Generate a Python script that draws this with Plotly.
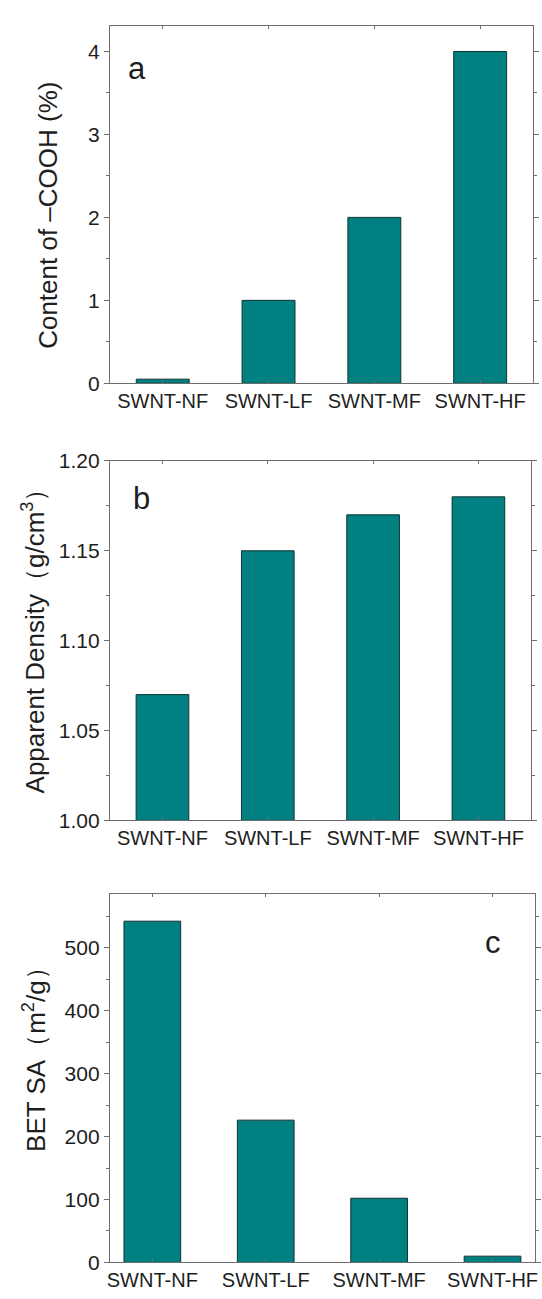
import plotly.graph_objects as go

# Sample names shared by the three panels
samples = ["SWNT-NF", "SWNT-LF", "SWNT-MF", "SWNT-HF"]

# Panel a: carboxyl content (%)
cooh_content = [0.05, 1.0, 2.0, 4.0]
# Panel b: apparent density (g/cm3)
apparent_density = [1.07, 1.15, 1.17, 1.18]
# Panel c: BET surface area (m2/g)
bet_sa = [542, 226, 102, 10]

W, H = 542, 1299
FONT = "Liberation Sans, Arial, Helvetica, sans-serif"
BAR_FILL = "#008080"
BAR_EDGE = "#123232"
AXIS_COLOR = "#6e6e6e"
TEXT_COLOR = "#1e1e1e"


def px_x(x):
    return x / W


def px_y(y):
    return 1 - y / H


fig = go.Figure()

panels = [
    dict(vals=cooh_content, xs=(108, 536), ys=(14, 378), yr=[0, 4.31],
         dt=1, mdt=0.5, xr=[-0.5, 3.5], fmt=None),
    dict(vals=apparent_density, xs=(108, 534), ys=(457, 823), yr=[1.0, 1.2],
         dt=0.05, mdt=0.025, xr=[-0.5, 3.5], fmt=".2f"),
    dict(vals=bet_sa, xs=(108, 538), ys=(898, 1273), yr=[0, 585],
         dt=100, mdt=50, xr=[-0.375, 3.375], fmt=None),
]

for i, p in enumerate(panels, start=1):
    xa = "x" if i == 1 else f"x{i}"
    ya = "y" if i == 1 else f"y{i}"
    base = p["yr"][0]
    fig.add_trace(go.Bar(
        x=samples,
        y=[v - base for v in p["vals"]],
        base=base,
        width=0.5,
        marker=dict(color=BAR_FILL, line=dict(color=BAR_EDGE, width=1)),
        xaxis=xa, yaxis=ya, showlegend=False,
    ))
    xkey = "xaxis" if i == 1 else f"xaxis{i}"
    ykey = "yaxis" if i == 1 else f"yaxis{i}"
    fig.layout[xkey] = dict(
        domain=[px_x(p["xs"][0]), px_x(p["xs"][1])],
        anchor=ya, range=p["xr"], type="category",
        showline=True, linecolor=AXIS_COLOR, linewidth=1, mirror="ticks",
        ticks="inside", ticklen=3, tickcolor=AXIS_COLOR,
        tickfont=dict(family=FONT, size=20, color=TEXT_COLOR),
        showgrid=False, zeroline=False, fixedrange=True,
    )
    ya_cfg = dict(
        domain=[px_y(p["ys"][1]), px_y(p["ys"][0])],
        anchor=xa, range=p["yr"],
        showline=True, linecolor=AXIS_COLOR, linewidth=1, mirror="ticks",
        ticks="outside", ticklen=5, tickcolor=AXIS_COLOR,
        dtick=p["dt"], tick0=base,
        minor=dict(dtick=p["mdt"], ticks="outside", ticklen=3,
                   tickcolor=AXIS_COLOR, showgrid=False),
        tickfont=dict(family=FONT, size=21, color=TEXT_COLOR),
        showgrid=False, zeroline=False, fixedrange=True,
    )
    if p["fmt"]:
        ya_cfg["tickformat"] = p["fmt"]
    fig.layout[ykey] = ya_cfg

# Axis titles, drawn as rotated annotations
titles = [
    ("Content of –COOH (%)", 46, 207),
    ("Apparent Density（g/cm<sup>3</sup>）", 31, 634),
    ("BET SA（m<sup>2</sup>/g）", 32, 1060),
]
for text, cx, cy in titles:
    fig.add_annotation(
        text=text, xref="paper", yref="paper", x=px_x(cx), y=px_y(cy),
        xanchor="center", yanchor="middle", textangle=-90, showarrow=False,
        font=dict(family=FONT, size=26, color=TEXT_COLOR),
    )

# Panel letters
letters = [("a", 136, 58), ("b", 140, 495), ("c", 495, 947)]
for text, cx, cy in letters:
    fig.add_annotation(
        text=text, xref="paper", yref="paper", x=px_x(cx), y=px_y(cy),
        xanchor="center", yanchor="middle", showarrow=False,
        font=dict(family=FONT, size=31, color=TEXT_COLOR),
    )

fig.update_layout(
    width=W, height=H,
    margin=dict(l=0, r=0, t=0, b=0),
    paper_bgcolor="white", plot_bgcolor="white",
    bargap=0.5,
)

fig.write_html("out.html")
